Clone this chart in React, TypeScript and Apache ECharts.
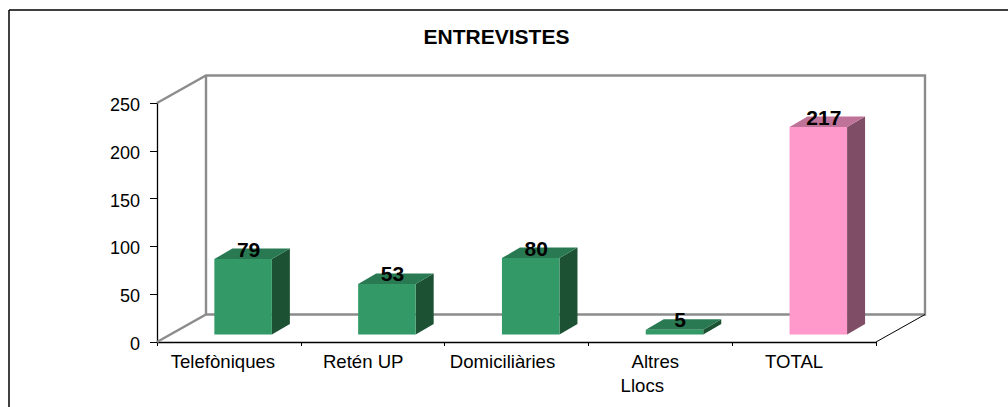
import React, { useEffect, useRef } from "react";
import * as echarts from "echarts";

const chartTitle = "ENTREVISTES";
const categories = ["Telefòniques", "Retén UP", "Domiciliàries", "Altres\nLlocs", "TOTAL"];
const values = [79, 53, 80, 5, 217];
const valueTicks = [0, 50, 100, 150, 200, 250];

const FONT = '"Liberation Sans", Arial, sans-serif';
const GREEN = ["#339966", "#297A52", "#1C5233"];
const PINK = ["#FF99CC", "#BF7399", "#804D66"];
const faces = [GREEN, GREEN, GREEN, GREEN, PINK];

const WALL_DX = 49;
const WALL_DY = -27.5;

// category labels sit left of their band centre in the reference
const labelShift = [12, 19, 28, 0, 20];
const LABEL_SIZE = 18.6;
const richLabel = (right: number) => ({
  padding: [0, right, 0, 0],
  fontFamily: FONT,
  fontSize: LABEL_SIZE,
  lineHeight: 24,
  color: "#000",
});

export default function App() {
  const ref = useRef<HTMLDivElement>(null);
  useEffect(() => {
    const chart = echarts.init(ref.current!, null, { renderer: "svg" });

    const renderWalls = (params: any) => {
      const r = params.coordSys;
      const l = r.x, t = r.y, w = r.width, h = r.height;
      const gray = { stroke: "#8C8C8C", lineWidth: 2.4, fill: "none" };
      return {
        type: "group",
        silent: true,
        children: [
          {
            type: "polyline",
            shape: {
              points: [
                [l, t + h],
                [l + WALL_DX, t + h + WALL_DY],
                [l + w + WALL_DX, t + h + WALL_DY],
                [l + w + WALL_DX, t + WALL_DY],
                [l + WALL_DX, t + WALL_DY],
                [l, t],
              ],
            },
            style: gray,
          },
          {
            type: "line",
            shape: { x1: l + WALL_DX, y1: t + h + WALL_DY, x2: l + WALL_DX, y2: t + WALL_DY },
            style: gray,
          },
          {
            type: "line",
            shape: { x1: l + w, y1: t + h, x2: l + w + WALL_DX, y2: t + h + WALL_DY },
            style: { stroke: "#000", lineWidth: 1 },
          },
        ],
      };
    };

    const renderBar = (params: any, api: any) => {
      const i = api.value(0);
      const v = api.value(1);
      const base = api.coord([i, 0]);
      const top = api.coord([i, v]);
      const band = api.size([1, 0])[0];
      const halfW = band * 0.2;
      const cx = base[0] + WALL_DX * 0.29;
      const y0 = base[1] + WALL_DY * 0.27;
      const y1 = top[1] + WALL_DY * 0.27;
      const dx = 18;
      const dy = -10.5;
      const c = faces[i];
      const x0 = cx - halfW;
      const x1 = cx + halfW;
      return {
        type: "group",
        children: [
          {
            type: "polygon",
            shape: { points: [[x1, y0], [x1 + dx, y0 + dy], [x1 + dx, y1 + dy], [x1, y1]] },
            style: { fill: c[2] },
          },
          {
            type: "polygon",
            shape: { points: [[x0, y1], [x0 + dx, y1 + dy], [x1 + dx, y1 + dy], [x1, y1]] },
            style: { fill: c[1] },
          },
          {
            type: "rect",
            shape: { x: x0, y: y1, width: x1 - x0, height: y0 - y1 },
            style: { fill: c[0] },
          },
          {
            type: "text",
            x: cx + 5.5,
            y: y1 - 10,
            style: {
              text: String(v),
              fill: "#000",
              font: `bold 21px ${FONT}`,
              align: "center",
              verticalAlign: "middle",
            },
          },
        ],
      };
    };

    chart.setOption({
      animation: false,
      backgroundColor: "#fff",
      title: {
        text: chartTitle,
        left: 491.5,
        top: 21,
        textAlign: "center",
        textStyle: { fontFamily: FONT, fontSize: 21, fontWeight: "bold", color: "#000" },
      },
      graphic: [
        { type: "line", shape: { x1: 9, y1: 10, x2: 1008, y2: 10 }, style: { stroke: "#000", lineWidth: 1.5 } },
        { type: "line", shape: { x1: 9, y1: 10, x2: 9, y2: 407 }, style: { stroke: "#000", lineWidth: 1.5 } },
      ],
      grid: { left: 157, top: 103, width: 719, height: 239 },
      xAxis: {
        type: "category",
        data: categories,
        boundaryGap: true,
        axisLine: { lineStyle: { color: "#000", width: 1.3 } },
        axisTick: { show: true, length: 4, alignWithLabel: false, lineStyle: { color: "#000" } },
        axisLabel: {
          interval: 0,
          margin: 7,
          color: "#000",
          fontFamily: FONT,
          fontSize: LABEL_SIZE,
          lineHeight: 24,
          formatter: (value: string, index: number) => {
            if (value.includes("\n")) {
              const [a, b] = value.split("\n");
              return `{upper|${a}}\n{lower|${b}}`;
            }
            return `{s${index}|${value}}`;
          },
          rich: {
            s0: richLabel(labelShift[0]),
            s1: richLabel(labelShift[1]),
            s2: richLabel(labelShift[2]),
            s4: richLabel(labelShift[4]),
            upper: richLabel(10),
            lower: richLabel(36),
          },
        },
        splitLine: { show: false },
      },
      yAxis: {
        type: "value",
        min: valueTicks[0],
        max: valueTicks[valueTicks.length - 1],
        interval: 50,
        axisLine: { show: true, lineStyle: { color: "#000", width: 1.3 } },
        axisTick: { show: true, length: 7, lineStyle: { color: "#000" } },
        axisLabel: {
          margin: 17,
          color: "#000",
          fontFamily: FONT,
          fontSize: 18,
          formatter: (value: number) => `{v|${value}}`,
          rich: {
            v: { padding: [4, 0, 0, 0], fontFamily: FONT, fontSize: 18, color: "#000" },
          },
        },
        splitLine: { show: false },
      },
      series: [
        {
          type: "custom",
          renderItem: renderWalls,
          data: [[0, 0]],
          z: 1,
          silent: true,
        },
        {
          type: "custom",
          renderItem: renderBar,
          data: values.map((v, i) => [i, v]),
          encode: { x: 0, y: 1 },
          z: 3,
        },
      ],
    });
    return () => chart.dispose();
  }, []);
  return <div ref={ref} style={{ position: "fixed", left: 0, top: 0, width: 1008, height: 407 }} />;
}
